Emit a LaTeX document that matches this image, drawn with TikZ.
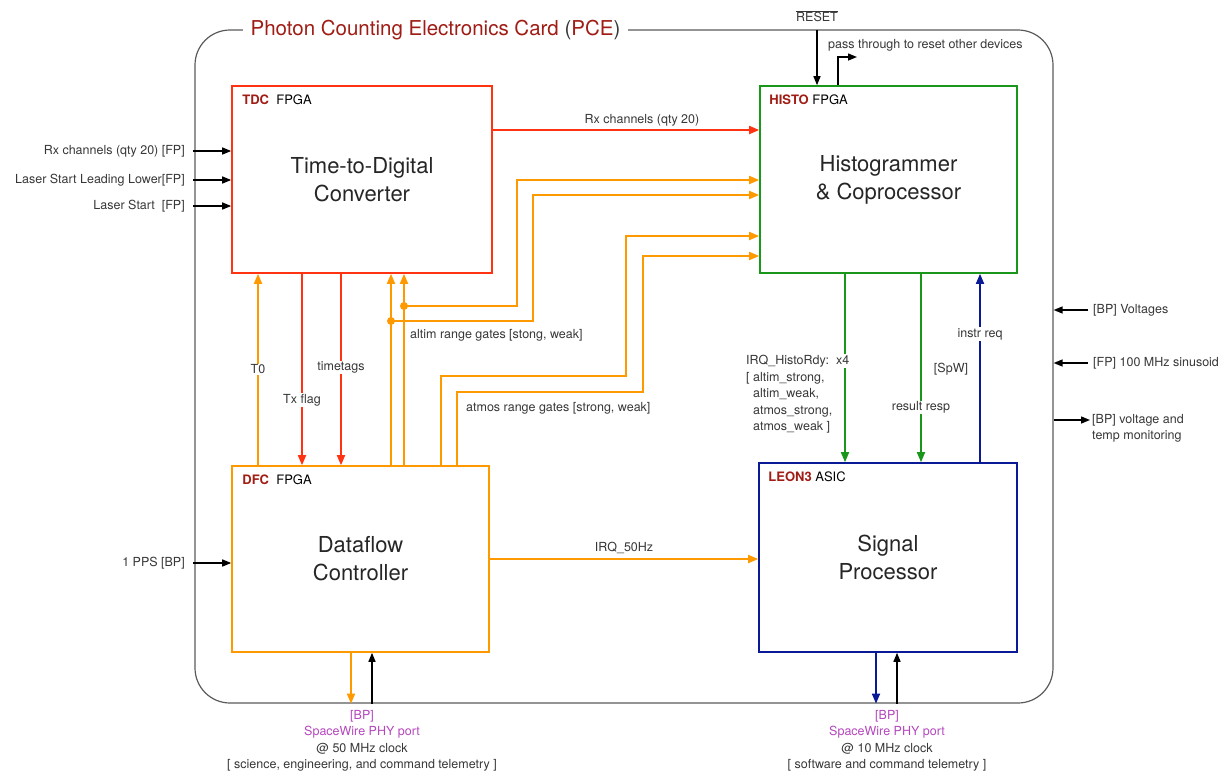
\documentclass[tikz,border=0pt]{standalone}
\usepackage{fontspec}
\setmainfont{TeX Gyre Heros}
\usetikzlibrary{arrows.meta,positioning,calc}
\definecolor{tdcred}{RGB}{255,51,17}
\definecolor{dfcorange}{RGB}{255,153,0}
\definecolor{histogreen}{RGB}{26,150,26}
\definecolor{leonblue}{RGB}{10,25,150}
\definecolor{tagred}{RGB}{160,28,20}
\definecolor{portpurple}{RGB}{180,70,190}
\definecolor{txtgrey}{RGB}{55,55,55}
\definecolor{framegrey}{RGB}{90,90,90}

\tikzset{
  block/.style={draw, line width=1.6pt, minimum width=258pt, minimum height=187pt,
    align=center, font=\fontsize{22}{28}\selectfont, text=black!85},
  tag/.style={anchor=north west, inner sep=0pt, font=\fontsize{13}{15}\selectfont},
  lbl/.style={font=\fontsize{12.5}{16.5}\selectfont, text=txtgrey, inner sep=1pt},
  sig/.style={line width=1.7pt, -{Triangle[length=10pt,width=8pt]}},
  blk/.style={line width=1.4pt, black, -{Triangle[length=9pt,width=7pt]}}
}

\begin{document}
\begin{tikzpicture}[x=1pt,y=-1pt]
\useasboundingbox (0,0) rectangle (1232,777);

% card outline and title
\node[draw=framegrey, line width=1.2pt, rounded corners=35pt,
  minimum width=858pt, minimum height=673pt] (pce) at (624,366.5) {};
\node[fill=white, inner xsep=8pt, font=\fontsize{20.5}{24}\selectfont, text=tagred] (title)
  at (435.5,30) {Photon Counting Electronics Card \textcolor{txtgrey}{(}PCE\textcolor{txtgrey}{)}};

% the four chips
\node[block, draw=tdcred, minimum width=260pt] (tdc) at (362,179.5) {Time-to-Digital\\Converter};
\node[block, draw=histogreen, minimum width=257pt] (histo) at (888.5,179.5) {Histogrammer\\\& Coprocessor};
\node[block, draw=dfcorange, minimum width=257pt, minimum height=186pt] (dfc) at (360.5,559) {Dataflow\\Controller};
\node[block, draw=leonblue, minimum width=258pt, minimum height=189pt] (leon) at (888,557.5) {Signal\\Processor};

\node[tag] (tdctag) at ([shift={(11pt,-9pt)}]tdc.north west) {\textcolor{tagred}{\textbf{TDC}}\ \ FPGA};
\node[tag] (histotag) at ([shift={(10pt,-9pt)}]histo.north west) {\textcolor{tagred}{\textbf{HISTO}} FPGA};
\node[tag] (dfctag) at ([shift={(11pt,-9pt)}]dfc.north west) {\textcolor{tagred}{\textbf{DFC}}\ \ FPGA};
\node[tag] (leontag) at ([shift={(10pt,-9pt)}]leon.north west) {\textcolor{tagred}{\textbf{LEON3}} ASIC};

% front panel inputs
\coordinate (rxin) at (193,151);
\coordinate (lslin) at (193,180);
\coordinate (lsin) at (193,206);
\coordinate (ppsin) at (193,563);
\draw[blk] (rxin) -- (rxin -| tdc.west);
\draw[blk] (lslin) -- (lslin -| tdc.west);
\draw[blk] (lsin) -- (lsin -| tdc.west);
\draw[blk] (ppsin) -- (ppsin -| dfc.west);
\node[lbl, left=7pt of rxin] (rxlbl) {Rx channels (qty 20) [FP]};
\node[lbl, left=7pt of lslin] (lsllbl) {Laser Start Leading Lower[FP]};
\node[lbl, left=7pt of lsin] (lslbl) {Laser Start\ \ [FP]};
\node[lbl, left=7pt of ppsin] (ppslbl) {1 PPS [BP]};

% right side
\coordinate (vin) at (1088,310);
\coordinate (sinin) at (1088,363);
\coordinate (monout) at (1090,420);
\draw[blk] (vin) -- (vin -| pce.east);
\draw[blk] (sinin) -- (sinin -| pce.east);
\draw[blk] (monout -| pce.east) -- (monout);
\node[lbl, right=4pt of vin] (vlbl) {[BP] Voltages};
\node[lbl, right=4pt of sinin] (sinlbl) {[FP] 100 MHz sinusoid};
\node[lbl, align=left, anchor=north west] (monlbl) at (1091,413) {[BP] voltage and\\temp monitoring};

% reset
\node[lbl] (rst) at (817,16) {$\overline{\mbox{RESET}}$};
\coordinate (rsttop) at (817,30);
\coordinate (passend) at (857,57);
\draw[blk] (rsttop) -- (rsttop |- histo.north);
\draw[blk] (histo.north -| 838,0) |- (passend);
\node[lbl, anchor=west] (passlbl) at (827,45) {pass through to reset other devices};

% TDC to HISTO
\draw[sig, tdcred] (tdc.east |- 0,130) -- (histo.west |- 0,130)
  node[lbl, pos=0.56, above=2pt] (rxmid) {Rx channels (qty 20)};

% TDC <-> DFC
\draw[sig, dfcorange] (dfc.north -| 258,0) -- (tdc.south -| 258,0) node[lbl, pos=0.5, fill=white] {T0};
\draw[sig, tdcred] (tdc.south -| 302,0) -- (dfc.north -| 302,0) node[lbl, pos=0.66, fill=white] {Tx flag};
\draw[sig, tdcred] (tdc.south -| 341,0) -- (dfc.north -| 341,0) node[lbl, pos=0.49, fill=white] {timetags};
\draw[sig, dfcorange] (dfc.north -| 391,0) -- (tdc.south -| 391,0);
\draw[sig, dfcorange] (dfc.north -| 404,0) -- (tdc.south -| 404,0);

% range gates to HISTO
\coordinate (altimA) at (404,306);
\coordinate (altimB) at (391,321);
\fill[dfcorange] (altimA) circle (4pt);
\fill[dfcorange] (altimB) circle (4pt);
\draw[sig, dfcorange] (altimA) -| (517,180) -- (histo.west |- 0,180);
\draw[sig, dfcorange] (altimB) -| (533,195) -- (histo.west |- 0,195);
\draw[sig, dfcorange] (dfc.north -| 441,0) |- (626,376) |- (histo.west |- 0,236);
\draw[sig, dfcorange] (dfc.north -| 457,0) |- (643,392) |- (histo.west |- 0,256);
\node[lbl, anchor=west] (altimlbl) at (409,335) {altim range gates [stong, weak]};
\node[lbl, anchor=west] (atmoslbl) at (465,408) {atmos range gates [strong, weak]};

% DFC to LEON3
\draw[sig, dfcorange] (dfc.east |- 0,559) -- (leon.west |- 0,559) node[lbl, midway, above=3pt] {IRQ\_50Hz};

% HISTO <-> LEON3
\draw[sig, histogreen] (histo.south -| 845,0) -- (leon.north -| 845,0);
\draw[sig, histogreen] (histo.south -| 921,0) -- (leon.north -| 921,0) node[lbl, pos=0.71, fill=white] {result resp};
\draw[sig, leonblue] (leon.north -| 980,0) -- (histo.south -| 980,0) node[lbl, pos=0.68, fill=white] {instr req};
\node[lbl] (spw) at (951,369) {[SpW]};
\node[lbl, anchor=west, fill=white] (irqlbl) at (745,361) {IRQ\_HistoRdy:\ \ x4};
\node[lbl, anchor=north west, align=left] (irqlist) at (745,371)
  {[ altim\_strong,\\\phantom{[ }altim\_weak,\\\phantom{[ }atmos\_strong,\\\phantom{[ }atmos\_weak ]};

% SpaceWire ports
\draw[sig, dfcorange] (dfc.south -| 351,0) -- (pce.south -| 351,0);
\draw[blk] (pce.south -| 372,0) -- (dfc.south -| 372,0);
\draw[sig, leonblue] (leon.south -| 876,0) -- (pce.south -| 876,0);
\draw[blk] (pce.south -| 897,0) -- (leon.south -| 897,0);
\node[lbl, align=center, anchor=north] (dfcport) at (362,709)
  {\textcolor{portpurple}{[BP]}\\\textcolor{portpurple}{SpaceWire PHY port}\\@ 50 MHz clock\\{[} science, engineering, and command telemetry ]};
\node[lbl, align=center, anchor=north] (leonport) at (887,709)
  {\textcolor{portpurple}{[BP]}\\\textcolor{portpurple}{SpaceWire PHY port}\\@ 10 MHz clock\\{[} software and command telemetry ]};
\end{tikzpicture}
\end{document}
